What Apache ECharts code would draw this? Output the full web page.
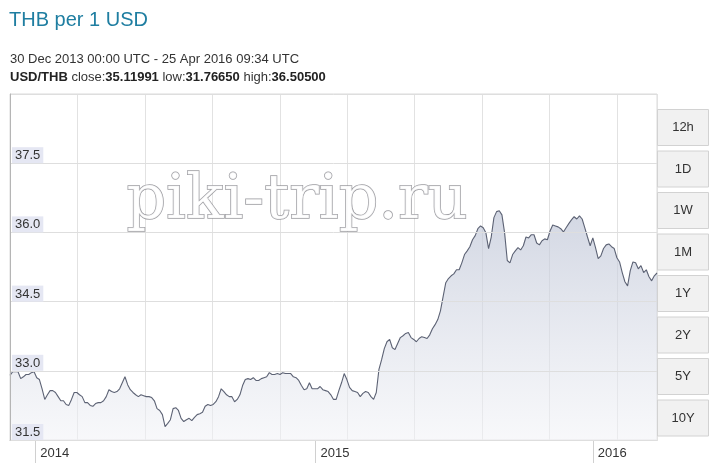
<!DOCTYPE html>
<html>
<head>
<meta charset="utf-8">
<script src="https://cdn.jsdelivr.net/npm/echarts@6/dist/echarts.min.js"></script>
<style>
html,body{margin:0;padding:0;background:#fff;}
#chart{width:720px;height:468px;}
</style>
</head>
<body>
<div id="chart"></div>
<script>
// USD/THB, one reading every 3.5 days from 30 Dec 2013 to 25 Apr 2016
const startDate = Date.UTC(2013, 11, 30);
const endDate = Date.UTC(2016, 3, 25);
const stepDays = 3.5;
const rates = [
  32.90, 32.98, 32.98, 32.98, 32.83, 32.87, 32.92, 32.92, 32.96, 32.98,
  32.85, 32.81, 32.61, 32.38, 32.48, 32.57, 32.57, 32.53, 32.44, 32.35,
  32.35, 32.27, 32.25, 32.38, 32.53, 32.53, 32.48, 32.44, 32.31, 32.31,
  32.25, 32.23, 32.29, 32.31, 32.31, 32.35, 32.44, 32.59, 32.55, 32.53,
  32.55, 32.61, 32.74, 32.87, 32.70, 32.59, 32.53, 32.48, 32.44, 32.48,
  32.46, 32.44, 32.44, 32.42, 32.35, 32.18, 32.14, 32.05, 31.79, 31.86,
  31.94, 32.18, 32.20, 32.14, 31.97, 31.90, 31.94, 31.97, 31.92, 31.99,
  32.05, 32.07, 32.10, 32.23, 32.27, 32.25, 32.27, 32.33, 32.44, 32.61,
  32.55, 32.48, 32.44, 32.44, 32.33, 32.38, 32.48, 32.68, 32.81, 32.83,
  32.81, 32.85, 32.79, 32.79, 32.83, 32.85, 32.87, 32.96, 32.92, 32.92,
  32.94, 32.92, 32.96, 32.94, 32.94, 32.94, 32.87, 32.85, 32.79, 32.68,
  32.59, 32.61, 32.74, 32.61, 32.61, 32.61, 32.66, 32.59, 32.57, 32.55,
  32.48, 32.38, 32.38, 32.57, 32.74, 32.94, 32.81, 32.64, 32.57, 32.55,
  32.53, 32.44, 32.51, 32.55, 32.53, 32.44, 32.38, 32.53, 33.03, 33.24,
  33.48, 33.63, 33.68, 33.50, 33.46, 33.59, 33.72, 33.76, 33.81, 33.83,
  33.72, 33.68, 33.63, 33.70, 33.74, 33.72, 33.70, 33.78, 33.91, 34.00,
  34.11, 34.30, 34.61, 34.91, 35.00, 35.06, 35.10, 35.19, 35.19, 35.34,
  35.52, 35.60, 35.69, 35.84, 35.93, 36.08, 36.14, 36.10, 35.99, 35.65,
  35.90, 36.32, 36.45, 36.47, 36.38, 35.99, 35.39, 35.34, 35.52, 35.60,
  35.67, 35.62, 35.71, 35.90, 35.88, 35.95, 35.95, 35.77, 35.73, 35.82,
  35.86, 35.84, 36.03, 36.16, 36.14, 36.12, 36.08, 36.01, 36.10, 36.19,
  36.27, 36.34, 36.29, 36.36, 36.29, 36.10, 35.90, 35.71, 35.88, 35.67,
  35.43, 35.49, 35.65, 35.73, 35.75, 35.69, 35.65, 35.45, 35.36, 35.13,
  34.93, 34.84, 35.17, 35.36, 35.34, 35.21, 35.28, 35.13, 35.19, 35.04,
  34.95, 35.06, 35.12
];
const yearTicks = [Date.UTC(2014, 1, 1), Date.UTC(2015, 1, 3), Date.UTC(2016, 1, 1)];
const yMin = 31.5, yMax = 39.0, yStep = 1.5;
const rangeButtons = ['12h', '1D', '1W', '1M', '1Y', '2Y', '5Y', '10Y'];
const titleText = 'THB per 1 USD';
const periodText = '30 Dec 2013 00:00 UTC - 25 Apr 2016 09:34 UTC';
const statsText = '{b|USD/THB} close:{b|35.11991} low:{b|31.76650} high:{b|36.50500}';
const watermark = 'piki-trip.ru';

const DAY = 86400000;
const seriesData = rates.map((v, i) => [startDate + i * stepDays * DAY, v]);

const FONT = 'Liberation Sans, Arial, sans-serif';
const chart = echarts.init(document.getElementById('chart'), null, {renderer: 'canvas'});

const graphics = [];
graphics.push({
  type: 'text', z: 1,
  style: {
    text: watermark, x: 297, y: 202, align: 'center', verticalAlign: 'middle',
    textAlign: 'center', textVerticalAlign: 'middle',
    font: '62px "DejaVu Serif", serif',
    fill: 'rgba(255,255,255,0.9)', stroke: 'rgba(140,140,146,0.85)', lineWidth: 1.5
  }
});
rangeButtons.forEach((t, i) => {
  const y = 109.5 + i * 41.5;
  graphics.push({
    type: 'rect', z: 10,
    shape: {x: 657.5, y: y, width: 51, height: 36},
    style: {fill: '#f1f1f1', stroke: '#d2d2d2', lineWidth: 1}
  });
  graphics.push({
    type: 'text', z: 11,
    style: {
      text: t, x: 683, y: y + 18, align: 'center', verticalAlign: 'middle',
      textAlign: 'center', textVerticalAlign: 'middle',
      font: '13px ' + FONT, fill: '#333'
    }
  });
});

const option = {
  animation: false,
  backgroundColor: '#fff',
  textStyle: {fontFamily: FONT},
  title: [
    {text: titleText, left: 9, top: 10, padding: 0,
     textStyle: {fontSize: 20, fontWeight: 'normal', color: '#1f7ea1', fontFamily: FONT}},
    {text: periodText, left: 10, top: 53, padding: 0,
     textStyle: {fontSize: 13, fontWeight: 'normal', color: '#333', fontFamily: FONT}},
    {text: statsText, left: 10, top: 71, padding: 0,
     textStyle: {fontSize: 13, fontWeight: 'normal', color: '#333', fontFamily: FONT,
       rich: {b: {fontSize: 13, fontWeight: 'bold', color: '#222', fontFamily: FONT}}}}
  ],
  grid: {left: 10, right: 63, top: 94, bottom: 28, show: true,
         borderColor: '#dadada', borderWidth: 1, backgroundColor: 'transparent'},
  xAxis: [
    {
      type: 'value', min: startDate, max: endDate,
      axisLine: {show: true, lineStyle: {color: '#b5b5b5'}},
      splitLine: {show: false},
      axisTick: {show: true, customValues: yearTicks, length: 23, lineStyle: {color: '#d0d0d0'}},
      axisLabel: {
        customValues: yearTicks, align: 'left', margin: 7, padding: [0, 0, 0, 5],
        fontSize: 13, color: '#333', fontFamily: FONT,
        formatter: v => String(new Date(v).getUTCFullYear())
      }
    },
    {
      type: 'value', position: 'top', min: 0, max: 9.592, interval: 1,
      axisLine: {show: false}, axisTick: {show: false}, axisLabel: {show: false},
      splitLine: {show: true, lineStyle: {color: '#e2e2e2'}}
    }
  ],
  yAxis: {
    type: 'value', min: yMin, max: yMax, interval: yStep,
    axisLine: {show: true, lineStyle: {color: '#b5b5b5'}},
    axisTick: {show: false},
    splitLine: {show: true, lineStyle: {color: '#dedede'}},
    axisLabel: {
      inside: true, showMaxLabel: false, margin: 2,
      verticalAlign: 'bottom', backgroundColor: '#e5e7f3', padding: [2, 3, 1, 3],
      fontSize: 13, color: '#333', fontFamily: FONT,
      formatter: v => v.toFixed(1)
    },
    z: 5
  },
  series: [{
    type: 'line', xAxisIndex: 0, data: seriesData, symbol: 'none', showSymbol: false,
    lineStyle: {color: '#5c6274', width: 1.1},
    areaStyle: {
      color: new echarts.graphic.LinearGradient(0, 210, 0, 440, [
        {offset: 0, color: 'rgba(188,195,213,0.95)'},
        {offset: 1, color: 'rgba(242,243,247,0.8)'}
      ], true)
    },
    z: 3
  }],
  graphic: graphics
};
chart.setOption(option);
</script>
</body>
</html>
